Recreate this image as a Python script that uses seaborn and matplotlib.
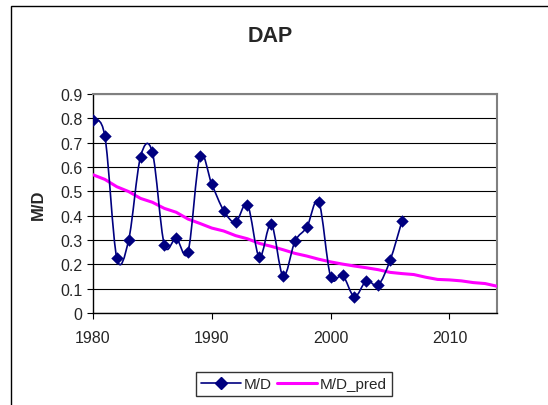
import matplotlib
matplotlib.use("Agg")
import matplotlib.pyplot as plt
from matplotlib.path import Path
from matplotlib.patches import PathPatch, Rectangle
from matplotlib.lines import Line2D
import numpy as np
import pandas as pd
import seaborn as sns

# observed M/D ratio
md_years = list(range(1980, 2007))
md_values = [0.795, 0.726, 0.227, 0.300, 0.642, 0.660, 0.281, 0.307, 0.252,
             0.644, 0.529, 0.421, 0.373, 0.445, 0.229, 0.366, 0.151, 0.295,
             0.353, 0.458, 0.149, 0.156, 0.067, 0.132, 0.115, 0.216, 0.377]

# predicted M/D ratio
pred_years = list(range(1980, 2015))
pred_values = [0.568, 0.549, 0.519, 0.499, 0.471, 0.455, 0.430, 0.414, 0.386,
               0.368, 0.349, 0.337, 0.318, 0.305, 0.286, 0.274, 0.260, 0.245,
               0.234, 0.221, 0.210, 0.201, 0.193, 0.186, 0.178, 0.167, 0.162,
               0.158, 0.147, 0.138, 0.136, 0.132, 0.125, 0.121, 0.110]

NAVY = "#000080"
MAGENTA = "#FF00FF"


def smooth_path(xs, ys):
    """Excel-like smoothed line as a cubic Bezier path (Catmull-Rom control points)."""
    pts = np.column_stack([xs, ys]).astype(float)
    n = len(pts)
    verts = [pts[0]]
    codes = [Path.MOVETO]
    for i in range(n - 1):
        p0 = pts[max(i - 1, 0)]
        p1 = pts[i]
        p2 = pts[i + 1]
        p3 = pts[min(i + 2, n - 1)]
        c1 = p1 + (p2 - p0) / 6.0
        c2 = p2 - (p3 - p1) / 6.0
        verts += [c1, c2, p2]
        codes += [Path.CURVE4] * 3
    return Path(verts, codes)


sns.set_style("white")
plt.rcParams["font.family"] = ["Liberation Sans", "DejaVu Sans"]

W, H = 548, 406
fig = plt.figure(figsize=(W / 100, H / 100), dpi=100)
ax = fig.add_axes([93 / W, 1 - 314 / H, (497 - 93) / W, (314 - 95) / H])

# chart area border (cut off at right and bottom like the source)
fig.patches.append(Rectangle((11 / W, -0.05), 1.2, 1 - 7 / H + 0.05,
                             transform=fig.transFigure, fill=False,
                             edgecolor="black", lw=1.0))

pred_df = pd.DataFrame({"year": pred_years, "value": pred_values})
md_df = pd.DataFrame({"year": md_years, "value": md_values})

sns.lineplot(data=pred_df, x="year", y="value", color=MAGENTA, lw=2.2, ax=ax, zorder=3)
ax.add_patch(PathPatch(smooth_path(md_years, md_values), fill=False,
                       edgecolor=NAVY, lw=1.2, zorder=4))
sns.scatterplot(data=md_df, x="year", y="value", marker="D", s=40, color=NAVY,
                edgecolor=NAVY, linewidth=0, ax=ax, zorder=5)

ax.set_xlim(1980, 2014)
ax.set_ylim(0, 0.9)
ax.set_xticks([1980, 1990, 2000, 2010])
ax.set_yticks(np.arange(0, 0.91, 0.1))
ax.set_yticklabels(["0"] + [f"{v:.1f}" for v in np.arange(0.1, 0.91, 0.1)])
ax.grid(axis="y", color="black", lw=0.8)
ax.set_axisbelow(True)
ax.tick_params(axis="both", direction="out", length=4, width=0.8,
               labelsize=11.5, color="black", left=True, bottom=True)
ax.tick_params(axis="x", pad=8)
ax.set_xlabel("")
ax.set_ylabel("M/D", fontsize=12, fontweight="bold", labelpad=10)
for side in ["top", "right"]:
    ax.spines[side].set_color("#808080")
    ax.spines[side].set_linewidth(1.5)
for side in ["left", "bottom"]:
    ax.spines[side].set_color("black")
    ax.spines[side].set_linewidth(1.0)

fig.text(270 / W, 1 - 36 / H, "DAP", ha="center", va="center",
         fontsize=15.5, fontweight="bold")

handles = [
    Line2D([], [], color=NAVY, lw=1.2, marker="D", markersize=6),
    Line2D([], [], color=MAGENTA, lw=2.2),
]
leg = fig.legend(handles, ["M/D", "M/D_pred"], loc="center",
                 bbox_to_anchor=(294 / W, 1 - 385 / H), ncol=2, frameon=True,
                 fancybox=False, edgecolor="black", fontsize=11,
                 handlelength=2.6, columnspacing=0.3, handletextpad=0.2,
                 borderpad=0.35)
leg.get_frame().set_linewidth(1.0)

fig.savefig("out.png", dpi=100)
